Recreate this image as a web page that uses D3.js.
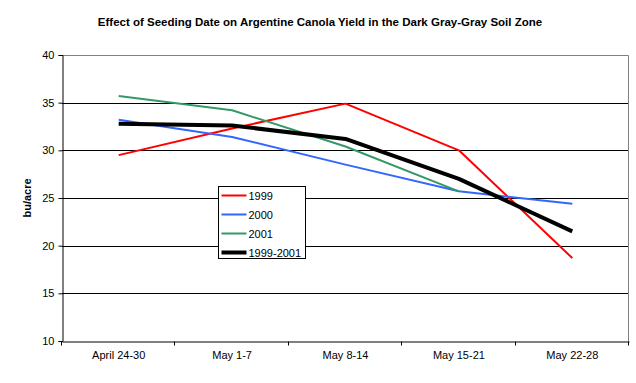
<!DOCTYPE html>
<html>
<head>
<meta charset="utf-8">
<script src="https://cdn.jsdelivr.net/npm/d3@7"></script>
<style>
  body { margin: 0; background: #fff; }
  text { font-family: "Liberation Sans", Arial, sans-serif; }
</style>
</head>
<body>
<div id="chart"></div>
<script>
var categories = ["April 24-30", "May 1-7", "May 8-14", "May 15-21", "May 22-28"];
var yTicks = [10, 15, 20, 25, 30, 35, 40];
var y1999 = [29.5, 32.3, 34.9, 30.0, 18.7];
var y2000 = [33.2, 31.4, 28.5, 25.7, 24.4];
var y2001 = [35.7, 34.2, 30.4, 25.7];
var yAvg = [32.8, 32.6, 31.2, 27.0, 21.5];

var series = [
    { name: "1999", values: y1999, color: "#ff0000", width: 2 },
    { name: "2000", values: y2000, color: "#3366ff", width: 2 },
    { name: "2001", values: y2001, color: "#339966", width: 2 },
    { name: "1999-2001", values: yAvg, color: "#000000", width: 4 }
];

var width = 636,
    height = 383,
    margin = { top: 55, right: 7, bottom: 42, left: 62 };

var svg = d3.select("#chart").append("svg")
    .attr("width", width)
    .attr("height", height);

var x = d3.scaleBand()
    .domain(categories)
    .range([margin.left, width - margin.right]);

var y = d3.scaleLinear()
    .domain([10, 40])
    .range([height - margin.bottom, margin.top]);

// gridlines
svg.append("g")
    .selectAll("line")
    .data(yTicks.slice(1, -1))
    .enter().append("line")
    .attr("x1", margin.left)
    .attr("x2", width - margin.right)
    .attr("y1", function(d) { return Math.round(y(d)) + 0.5; })
    .attr("y2", function(d) { return Math.round(y(d)) + 0.5; })
    .style("stroke", "#000");

// plot frame top / right
svg.append("path")
    .attr("d", "M" + margin.left + "," + (Math.round(y(40)) + 0.5) +
        "H" + (width - margin.right - 0.5) + "V" + (height - margin.bottom))
    .style("fill", "none")
    .style("stroke", "#808080");

// y axis
var yAxis = svg.append("g")
    .attr("transform", "translate(" + (margin.left + 0.5) + ",0)")
    .call(d3.axisLeft(y).tickValues(yTicks).tickSize(4).tickPadding(4));
yAxis.select(".domain").attr("stroke", "#000");
yAxis.selectAll("text").style("font-size", "11px").attr("fill", "#000");

// x axis
var xAxis = svg.append("g")
    .attr("transform", "translate(0," + (Math.round(y(10)) + 0.5) + ")")
    .call(d3.axisBottom(x).tickSize(0).tickPadding(10));
xAxis.select(".domain").attr("stroke", "#000");
xAxis.selectAll("text").style("font-size", "11px").attr("fill", "#000");
xAxis.selectAll(".sep")
    .data(categories.concat([""]))
    .enter().append("line")
    .attr("class", "sep")
    .attr("x1", function(d, i) { return Math.round(margin.left + i * x.step()) - 0.5; })
    .attr("x2", function(d, i) { return Math.round(margin.left + i * x.step()) - 0.5; })
    .attr("y1", 0)
    .attr("y2", 4)
    .style("stroke", "#000");

// lines
var line = d3.line()
    .x(function(d, i) { return x(categories[i]) + x.bandwidth() / 2; })
    .y(function(d) { return y(d); });

svg.append("g")
    .selectAll("path")
    .data(series)
    .enter().append("path")
    .attr("d", function(d) { return line(d.values); })
    .style("fill", "none")
    .style("stroke", function(d) { return d.color; })
    .style("stroke-width", function(d) { return d.width; })
    .style("stroke-linejoin", "round");

// title
svg.append("text")
    .attr("x", 320)
    .attr("y", 26)
    .attr("text-anchor", "middle")
    .style("font-size", "11.5px")
    .style("font-weight", "bold")
    .text("Effect of Seeding Date on Argentine Canola Yield in the Dark Gray-Gray Soil Zone");

// y label
svg.append("text")
    .attr("transform", "translate(31," + ((margin.top + height - margin.bottom) / 2) + ") rotate(-90)")
    .attr("text-anchor", "middle")
    .style("font-size", "11px")
    .style("font-weight", "bold")
    .text("bu/acre");

// legend
var legend = svg.append("g")
    .attr("transform", "translate(218.5,186.5)");

legend.append("rect")
    .attr("width", 87)
    .attr("height", 72)
    .style("fill", "#fff")
    .style("stroke", "#000");

var item = legend.selectAll(".item")
    .data(series)
    .enter().append("g")
    .attr("class", "item")
    .attr("transform", function(d, i) { return "translate(0," + (9 + i * 19) + ")"; });

item.append("line")
    .attr("x1", 3)
    .attr("x2", 28)
    .style("stroke", function(d) { return d.color; })
    .style("stroke-width", function(d) { return d.width; });

item.append("text")
    .attr("x", 30)
    .attr("y", 4)
    .style("font-size", "11px")
    .text(function(d) { return d.name; });
</script>
</body>
</html>
